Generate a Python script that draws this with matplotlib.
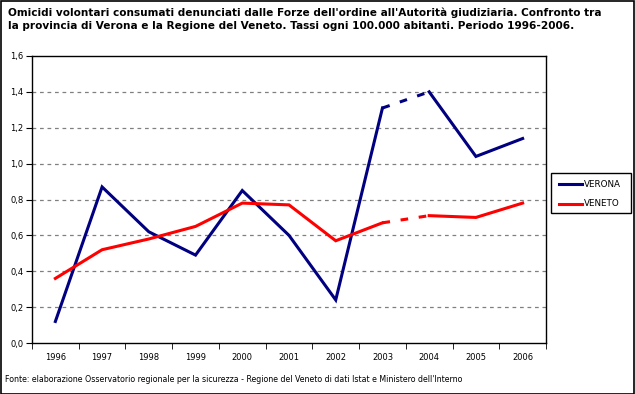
import matplotlib
matplotlib.use('Agg')
import matplotlib.pyplot as plt
from matplotlib.patches import Rectangle

years = ['1996', '1997', '1998', '1999', '2000', '2001', '2002', '2003', '2004', '2005', '2006']
verona = [0.12, 0.87, 0.62, 0.49, 0.85, 0.60, 0.24, 1.31, 1.40, 1.04, 1.14]
veneto = [0.36, 0.52, 0.58, 0.65, 0.78, 0.77, 0.57, 0.67, 0.71, 0.70, 0.78]
yticks = [0.0, 0.2, 0.4, 0.6, 0.8, 1.0, 1.2, 1.4, 1.6]

title = ("Omicidi volontari consumati denunciati dalle Forze dell'ordine all'Autorità giudiziaria. Confronto tra\n"
         "la provincia di Verona e la Regione del Veneto. Tassi ogni 100.000 abitanti. Periodo 1996-2006.")
source = "Fonte: elaborazione Osservatorio regionale per la sicurezza - Regione del Veneto di dati Istat e Ministero dell'Interno"

NAVY = '#000080'
RED = '#FF0000'

fig = plt.figure(figsize=(6.35, 3.94), dpi=100)
W, H = 635, 394
ax = fig.add_axes([32 / W, 1 - 343 / H, (546 - 32) / W, (343 - 56) / H])

x = list(range(len(years)))
gap = years.index('2003')

for data, col in [(verona, NAVY), (veneto, RED)]:
    ax.plot(x[:gap + 1], data[:gap + 1], color=col, lw=2.2, solid_joinstyle='miter')
    ax.plot(x[gap:gap + 2], data[gap:gap + 2], color=col, lw=2.2, dashes=(2.5, 3.5))
    ax.plot(x[gap + 1:], data[gap + 1:], color=col, lw=2.2, solid_joinstyle='miter')

ax.set_xlim(-0.5, len(years) - 0.5)
ax.set_ylim(0, 1.6)
ax.set_yticks(yticks)
ax.set_yticklabels([f'{v:.1f}'.replace('.', ',') for v in yticks], fontsize=6)
ax.set_xticks(x)
ax.set_xticklabels(years, fontsize=6)
ax.set_xticks([i - 0.5 for i in range(len(years) + 1)], minor=True)
ax.tick_params(axis='x', which='major', length=0, pad=7)
ax.tick_params(axis='x', which='minor', length=4, direction='out')
ax.tick_params(axis='y', length=4, direction='out', pad=2)
for v in yticks[1:-1]:
    ax.axhline(v, color='#808080', lw=0.9, ls=(0, (3, 3)), zorder=0)
for s in ax.spines.values():
    s.set_linewidth(1.0)

# legend
lx, ly, lw_, lh = 551, 173, 80, 40
fig.patches.append(Rectangle((lx / W, 1 - (ly + lh) / H), lw_ / W, lh / H,
                             transform=fig.transFigure, fill=False, ec='black', lw=1.0))
for i, (name, col) in enumerate([('VERONA', NAVY), ('VENETO', RED)]):
    yy = 1 - (184 + i * 20) / H
    fig.add_artist(plt.Line2D([559 / W, 582 / W], [yy, yy], transform=fig.transFigure,
                              color=col, lw=2.2))
    fig.text(584 / W, yy, name, fontsize=6.3, va='center', ha='left')

fig.text(8 / W, 1 - 7 / H, title, fontsize=7.55, fontweight='bold', va='top', ha='left',
         linespacing=1.45)
fig.text(5 / W, 1 - 380 / H, source, fontsize=5.7, va='center', ha='left')

fig.patches.append(Rectangle((0.5 / W, 0.5 / H), (W - 1.5) / W, (H - 1.5) / H,
                             transform=fig.transFigure, fill=False, ec='black', lw=1.2))

fig.savefig('out.png', dpi=100)
